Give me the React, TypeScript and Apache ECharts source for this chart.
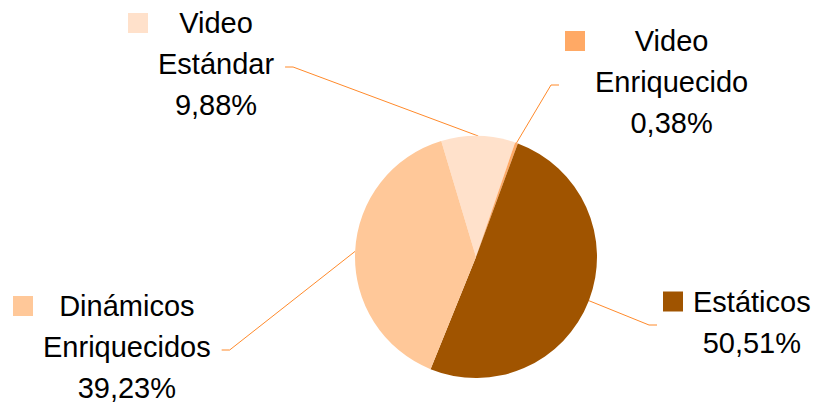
import React, { useEffect, useRef } from 'react';
import * as echarts from 'echarts';

const categories = ['Video Estándar', 'Video Enriquecido', 'Estáticos', 'Dinámicos Enriquecidos'];
const shares = [9.88, 0.38, 50.51, 39.23];
const colors = ['#FFE1CB', '#FFA965', '#A05400', '#FFC899'];

// label placement: left edge of marker square, vertical centre of text block, side of pie
const labelPlacement = [
  { x: 128, y: 64, side: 'left' },
  { x: 565, y: 82, side: 'right' },
  { x: 663, y: 322, side: 'right' },
  { x: 13, y: 347, side: 'left' },
];

const FONT = '"Liberation Sans", Arial, sans-serif';

export default function App() {
  const ref = useRef<HTMLDivElement>(null);
  useEffect(() => {
    if (!ref.current) return;
    const chart = echarts.init(ref.current, undefined, { renderer: 'svg' });
    const rich: Record<string, any> = {
      gap: { width: 10, align: 'left', lineHeight: 41 },
      pad: { width: 30, align: 'left', lineHeight: 41 },
      t: { fontSize: 29, lineHeight: 41, fontFamily: FONT, color: '#000', align: 'center' },
    };
    colors.forEach((c, i) => {
      rich['sq' + i] = { width: 20, height: 20, backgroundColor: c, align: 'left', verticalAlign: 'middle' };
    });
    chart.setOption({
      animation: false,
      backgroundColor: '#ffffff',
      series: [
        {
          type: 'pie',
          center: [476, 257],
          radius: 121,
          startAngle: 106.7,
          clockwise: true,
          avoidLabelOverlap: false,
          itemStyle: { borderWidth: 0 },
          emphasis: { disabled: true },
          data: categories.map((name, i) => ({
            name,
            value: shares[i],
            itemStyle: { color: colors[i] },
          })),
          label: {
            show: true,
            position: 'outside',
            overflow: 'none',
            formatter: (p: any) => {
              const i = p.dataIndex;
              const words = String(p.name).split(' ');
              const pct = Number(p.value).toFixed(2).replace('.', ',') + '%';
              const lines = [...words, pct];
              return lines
                .map((l, k) => (k === 0 ? `{sq${i}|}{gap|}{t|${l}}` : `{pad|}{t|${l}}`))
                .join('\n');
            },
            rich,
          },
          labelLine: {
            show: true,
            length: 10,
            length2: 10,
            lineStyle: { color: '#FF8A2B', width: 1 },
          },
          labelLayout: (p: any) => {
            const L = labelPlacement[p.dataIndex];
            const w = p.labelRect ? p.labelRect.width : 150;
            const anchor = p.labelLinePoints ? p.labelLinePoints[0] : [476, 257];
            const isLeft = L.side === 'left';
            const endX = isLeft ? L.x + w + 11 : L.x - 6;
            const endY = L.y + 3;
            const midX = isLeft ? endX + 8 : endX - 8;
            return {
              x: L.x,
              y: L.y,
              align: 'left',
              verticalAlign: 'middle',
              labelLinePoints: [anchor, [midX, endY], [endX, endY]],
            };
          },
        },
      ],
    });
    return () => chart.dispose();
  }, []);
  return (
    <div
      ref={ref}
      style={{ position: 'fixed', left: 0, top: 0, width: 816, height: 408 }}
    />
  );
}
